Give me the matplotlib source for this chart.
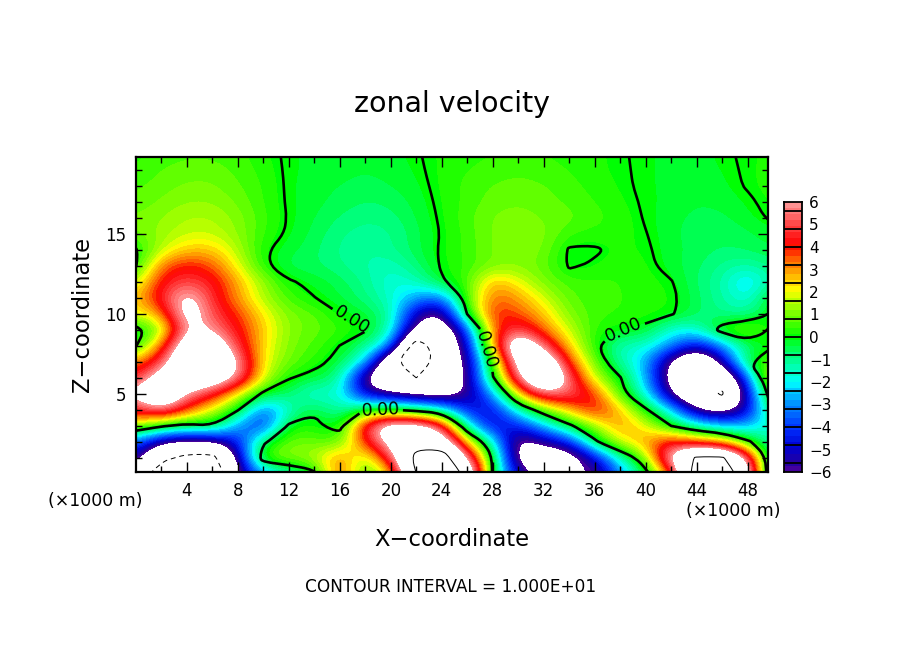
import matplotlib
matplotlib.use('Agg')
import matplotlib.pyplot as plt
from matplotlib.colors import LinearSegmentedColormap, BoundaryNorm
from matplotlib.patches import PathPatch
from matplotlib.path import Path
import numpy as np

# grid of the field, x in km (x1000 m), z in km
x_km = [0, 2, 4, 6, 8, 10, 12, 14, 16, 18, 20, 22, 24, 26, 28, 30, 32, 34, 36, 38, 40, 42, 44, 46, 48, 50]
z_km = list(range(21))

# zonal velocity read row by row, bottom to top
u_z0 = [-6.5, -13, -14, -13, -6, -3, -1.5, -.5, 4, .3, 2, 10, 13, 9, -.3, -5, -6.8, -5.7, -6.5, -3, -.5, 3, 12, 12, 8, -3]
u_z1 = [-5, -9, -11, -11, -5.5, 1, 1.2, 1.5, 3.5, 1, 5, 11, 12, 6, 0, -7, -8, -7.5, -5, -1.5, 1, 7, 10.5, 10.5, 6, -2]
u_z2 = [-3.5, -6, -6.5, -6.3, -4.5, -.2, 1, .8, .6, 4, 7, 9, 8, 2.5, -1.5, -7, -5.5, -4.5, -.3, 2, 3, 4.5, 3.5, 3, .3, -1.5]
u_z3 = [1.5, .2, -.5, -.05, -3, -4.5, .3, .2, -.4, 5, 8, 7.5, 5.5, -1.7, -5, -4.5, -2.5, -.3, 1.3, 3.2, 2, 0, -1.5, -2.5, -2.5, -1.5]
u_z4 = [4.5, 6, 3.6, 1.8, .1, -3.8, -1.6, -.1, -1.5, .05, .1, -.5, -1.5, -4.5, -5, -1.5, .9, 2.5, 4.5, 2.7, .2, -2, -5.9, -6.8, -5.3, .3]
u_z5 = [6.5, 9, 6, 4.5, 2, -.3, -.6, -2, -1.5, -5, -5.8, -6.5, -7, -5.9, -3, 2.5, 5.5, 5.5, 4, .5, -1.7, -6, -9, -10.3, -5, 1.5]
u_z6 = [4.5, 7.5, 8, 8, 6, 1.8, .05, -.3, -.9, -6.5, -9, -10, -9, -5.9, -.1, 5.7, 10, 5.5, 1.5, .1, -2.5, -7, -10, -9, -3.5, 3]
u_z7 = [3, 5, 9, 9, 6.2, 2, .9, .3, -.3, -2, -9, -13, -8, -5.9, .3, 7.5, 9, 3.6, 1, -1.3, -2.5, -6.5, -9, -5.5, -.05, 1]
u_z8 = [-.1, 3.5, 8, 8, 4.8, 2.3, 1, .6, -.02, -.9, -2.5, -12, -8, -5.5, 3, 9, 5.5, 2.4, .3, -1.6, -1.5, -3, -5, -3, -.8, -.1]
u_z9 = [-.5, 1, 6.5, 5.9, 4.2, 2.5, 1.1, .8, .5, .1, -1.3, -6.8, -8, -4, 3.5, 5.3, 3.3, 1.7, .3, .03, -.2, -1.8, -1.7, .6, 1.4, -.1]
u_z10 = [2, 3, 7.5, 5, 3.8, 2.2, 1, .8, 0, -.3, -1, -5.5, -6.5, .1, 4.2, 3.6, 2.6, 1, .5, .4, .3, .1, -.6, -1, -1.1, .02]
u_z11 = [2.5, 4.6, 7, 4.6, 3, 1.4, .5, .02, -.4, -.8, -1.6, -2.8, -3.5, .8, 3.5, 3, 1.8, .7, .5, .4, .35, .2, -.6, -1.1, -2, .3]
u_z12 = [1.5, 4.3, 5, 4.5, 2.8, 1.3, .1, -.2, -.5, -1, -1.8, -1.5, -.1, .5, 3, 2, 1, .5, .5, .4, .3, .05, -.7, -1.2, -2.6, -1]
u_z13 = [-.1, 3.5, 4.2, 3.6, 2, .2, -.6, -.6, -.9, -1.2, -1.5, -.8, .1, .4, 1, 1.1, .8, -.1, .1, .4, .2, -.3, -.6, -1, -1.3, -.8]
u_z14 = [-.1, 1.6, 2.6, 2.6, 1.5, .1, -.3, -.6, -1, -1.2, -1, -.5, .1, .5, 1, 1.2, 1, -.1, -.1, .2, .1, -.3, -.5, -.7, -.6, -.4]
u_z15 = [.9, 1.3, 1.7, 1.7, 1.2, .4, -.1, -.5, -.9, -1.1, -1, -.5, .05, .5, 1, 1.1, 1.1, .4, .3, .3, .02, -.3, -.6, -.6, -.5, -.2]
u_z16 = [1, 1.2, 1.5, 1.5, 1.1, .5, -.05, -.4, -.7, -.9, -.8, -.4, .1, .6, 1, 1.1, .9, .8, .5, .3, -.05, -.3, -.5, -.5, -.2, .1]
u_z17 = [.7, 1, 1.2, 1.2, .9, .4, -.08, -.3, -.5, -.7, -.6, -.3, .15, .5, .8, .9, .8, .6, .4, .2, -.08, -.2, -.4, -.3, -.1, .2]
u_z18 = [.6, .8, 1, 1, .7, .4, -.1, -.3, -.4, -.5, -.4, -.2, .2, .5, .7, .8, .7, .5, .3, .1, -.1, -.2, -.3, -.2, .05, .3]
u_z19 = [.4, .7, .8, .8, .6, .3, -.1, -.2, -.3, -.4, -.3, -.1, .2, .4, .5, .6, .5, .4, .2, .07, -.1, -.2, -.2, -.15, .08, .25]
u_z20 = [.3, .5, .6, .6, .5, .2, -.1, -.2, -.3, -.3, -.2, -.05, .2, .3, .4, .4, .4, .3, .2, .05, -.1, -.2, -.2, -.1, .1, .2]

u_rows = [u_z0, u_z1, u_z2, u_z3, u_z4, u_z5, u_z6, u_z7, u_z8, u_z9, u_z10, u_z11, u_z12,
          u_z13, u_z14, u_z15, u_z16, u_z17, u_z18, u_z19, u_z20]

color_ticks = [-6, -5, -4, -3, -2, -1, 0, 1, 2, 3, 4, 5, 6]
x_ticks = [4, 8, 12, 16, 20, 24, 28, 32, 36, 40, 44, 48]
z_ticks = [5, 10, 15]
label_spots = [(17.0, 9.7), (19.2, 4.1), (27.2, 7.6), (38.3, 8.8)]

W, H = 904, 654


def fx(px):
    return px / W


def fy(py):
    return 1 - py / H


def draw_round(cs, **kw):
    # redraw the broken contour pieces with rounded corners
    for path in cs.get_paths():
        v, c = path.vertices, path.codes
        if len(v) == 0:
            continue
        starts = [i for i in range(len(v)) if c[i] == Path.MOVETO] + [len(v)]
        for a, b in zip(starts[:-1], starts[1:]):
            p = v[a:b]
            if len(p) < 3:
                continue
            verts = [p[0]]
            codes = [Path.MOVETO]
            for i in range(1, len(p) - 1):
                end = p[i + 1] if i == len(p) - 2 else (p[i] + p[i + 1]) / 2
                verts += [p[i], end]
                codes += [Path.CURVE3, Path.CURVE3]
            ax.add_patch(PathPatch(Path(verts, codes), fill=False, **kw))
    cs.set_visible(False)


# rainbow of the plot, dark purple up to pale pink
anchors = [(-6, '#6a00a8'), (-5.6, '#2a0096'), (-4.8, '#0000d0'), (-4, '#0030ff'), (-3.2, '#0078ff'),
           (-2.4, '#00c4ff'), (-2, '#00ffff'), (-1.6, '#00ffd0'), (-.8, '#00ff78'), (0, '#00ff00'),
           (.8, '#64ff00'), (1.6, '#c0ff00'), (2, '#ffff00'), (2.4, '#ffd000'), (3.2, '#ff7800'),
           (4, '#ff0000'), (4.8, '#ff4040'), (5.6, '#ff8888'), (6, '#ffaaaa')]
cmap = LinearSegmentedColormap.from_list('zonal', [((v + 6) / 12, c) for v, c in anchors], N=256)
cmap.set_over('white')
cmap.set_under('white')
levels = np.arange(-6, 6.01, 0.8 / 3)
norm = BoundaryNorm(levels, cmap.N, extend='both')

fig = plt.figure(figsize=(W / 100, H / 100), dpi=100)
ax = fig.add_axes([fx(136), fy(472), fx(768 - 136), (472 - 157) / H])

u = np.array(u_rows)
ax.imshow(u, origin='lower', extent=(-1, 51, -.5, 20.5), aspect='auto', cmap=cmap, norm=norm,
          interpolation='bicubic', interpolation_stage='data')

# zero line heavy, +-10 thin
zero = ax.contour(x_km, z_km, u, levels=[0], colors='black')
ax.clabel(zero, manual=label_spots, fmt='%.2f', fontsize=12.5, inline=True, inline_spacing=2)
draw_round(zero, edgecolor='black', linewidth=1.9)
minus = ax.contour(x_km, z_km, u, levels=[-10], colors='black')
draw_round(minus, edgecolor='black', linewidth=0.7, linestyle=(0, (5, 4)))
plus = ax.contour(x_km, z_km, u, levels=[10], colors='black')
draw_round(plus, edgecolor='black', linewidth=0.7)

ax.set_xlim(0, 49.6)
ax.set_ylim(0.12, 19.8)
ax.set_xticks(x_ticks)
ax.set_xticks(np.arange(2, 50, 4), minor=True)
ax.set_yticks(z_ticks)
ax.set_yticks(np.arange(1, 20), minor=True)
ax.tick_params(which='major', direction='in', length=7, width=1, top=True, right=True, labelsize=12, pad=7)
ax.tick_params(which='minor', direction='in', length=4, width=1, top=True, right=True)
for s in ax.spines.values():
    s.set_linewidth(1.6)

# colour bar, 15 boxes of 0.8 with half boxes at both ends
cax = fig.add_axes([fx(784), fy(472), 18 / W, 270 / H])
mids = (levels[:-1] + levels[1:]) / 2
cax.pcolormesh([0, 1], levels, mids.reshape(-1, 1), cmap=cmap, norm=norm)
cax.hlines(np.arange(-5.6, 5.7, 0.8), 0, 1, colors='black', linewidth=1.3)
cax.set_xticks([])
cax.set_xlim(0, 1)
cax.set_ylim(-6, 6)
cax.yaxis.tick_right()
cax.set_yticks(color_ticks)
cax.set_yticklabels([str(t).replace('-', '\u2212') for t in color_ticks])
cax.tick_params(length=0, labelsize=11, pad=5)
for s in cax.spines.values():
    s.set_linewidth(1.3)

fig.text(fx(452), fy(104), 'zonal velocity', fontsize=20.5, ha='center', va='center')
fig.text(fx(83), fy(314), 'Z\u2212coordinate', fontsize=16.3, rotation=90, ha='center', va='center')
fig.text(fx(452), fy(540), 'X\u2212coordinate', fontsize=16.3, ha='center', va='center')
fig.text(fx(95), fy(501), '(\u00d71000 m)', fontsize=12.5, ha='center', va='center')
fig.text(fx(733), fy(511), '(\u00d71000 m)', fontsize=12.5, ha='center', va='center')
fig.text(fx(451), fy(587), 'CONTOUR INTERVAL = 1.000E+01', fontsize=12.2, ha='center', va='center')

fig.savefig('out.png', dpi=100)
